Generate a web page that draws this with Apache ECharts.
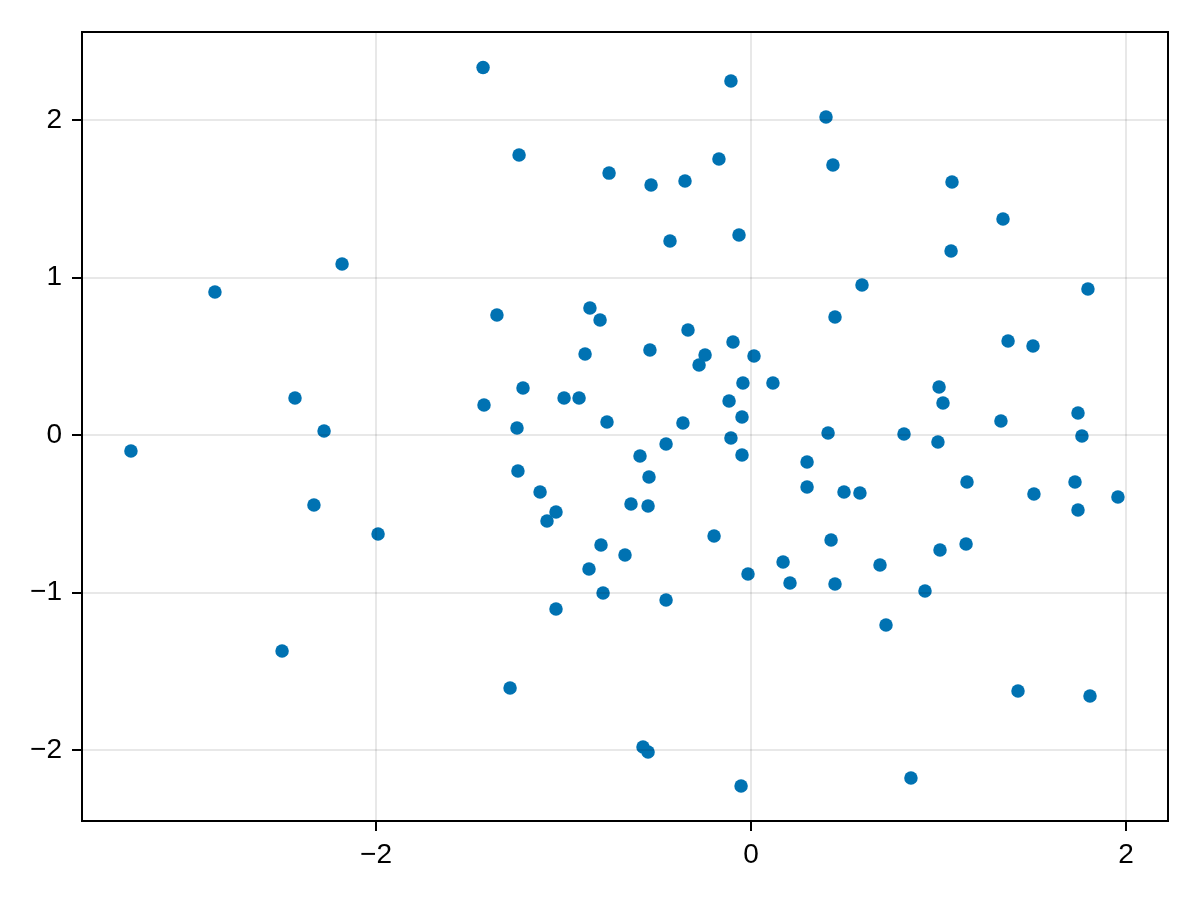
<!DOCTYPE html>
<html>
<head>
<meta charset="utf-8">
<script src="https://cdn.jsdelivr.net/npm/echarts@6/dist/echarts.min.js"></script>
<style>html,body{margin:0;padding:0;background:#fff}#chart{width:1200px;height:900px}</style>
</head>
<body>
<div id="chart"></div>
<script>
const xValues = [-1.429,-0.107,0.400,-1.237,-0.757,-0.533,-0.352,-0.171,0.437,1.072,
  1.344,-0.432,-0.064,1.067,-2.181,-2.859,0.592,1.797,-1.355,-0.859,
  -0.805,0.448,-0.336,1.371,1.504,-0.096,-0.539,-0.245,-0.885,0.016,
  -0.277,-1.216,-0.043,0.117,1.003,-2.432,-0.997,-0.917,-0.117,1.024,
  -1.424,1.744,-0.048,-0.768,-0.363,1.333,-1.248,-2.277,0.411,0.816,
  1.765,-0.107,0.997,-0.453,-3.307,-0.048,-0.592,0.299,-1.243,-0.544,
  1.728,1.152,0.299,-1.125,0.496,0.581,1.509,1.957,-0.640,-2.331,
  -0.549,1.744,-1.040,-1.088,-1.989,-0.197,0.427,1.147,-0.800,1.008,
  -0.672,0.688,0.171,-0.864,-0.016,0.208,0.448,0.928,-0.789,-0.453,
  -1.040,0.720,-2.501,-1.285,1.424,1.808,-0.576,-0.549,0.853,-0.053];
const yValues = [2.333,2.248,2.019,1.778,1.663,1.587,1.613,1.752,1.714,1.606,
  1.371,1.232,1.270,1.168,1.086,0.908,0.952,0.927,0.762,0.806,
  0.730,0.749,0.667,0.597,0.565,0.590,0.540,0.508,0.514,0.502,
  0.444,0.298,0.330,0.330,0.305,0.235,0.235,0.235,0.216,0.203,
  0.190,0.140,0.114,0.083,0.076,0.089,0.044,0.025,0.013,0.006,
  -0.006,-0.019,-0.044,-0.057,-0.102,-0.127,-0.133,-0.171,-0.229,-0.267,
  -0.298,-0.298,-0.330,-0.362,-0.362,-0.368,-0.375,-0.394,-0.438,-0.444,
  -0.451,-0.476,-0.489,-0.546,-0.629,-0.641,-0.667,-0.692,-0.698,-0.730,
  -0.762,-0.825,-0.806,-0.851,-0.883,-0.940,-0.946,-0.990,-1.003,-1.048,
  -1.105,-1.206,-1.371,-1.606,-1.625,-1.657,-1.981,-2.013,-2.178,-2.229];
const xTicks = [-2, 0, 2];
const yTicks = [-2, -1, 0, 1, 2];

const points = xValues.map((x, i) => [x, yValues[i]]);
const fmt = v => (v < 0 ? '\u2212' + Math.abs(v) : String(v));
const gridStyle = {color: 'rgba(0,0,0,0.12)', width: 1.5, type: 'solid'};
const FONT = '"Liberation Sans", Arial, Helvetica, sans-serif';

const chart = echarts.init(document.getElementById('chart'), null, {renderer: 'canvas'});
chart.setOption({
  animation: false,
  backgroundColor: '#fff',
  grid: {left: 82, right: 32, top: 32, bottom: 79, show: true, borderColor: '#000', borderWidth: 2, backgroundColor: 'transparent', z: 3},
  xAxis: {
    type: 'value', min: -3.568, max: 2.224,
    axisLine: {show: true, onZero: false, lineStyle: {color: '#000', width: 2}},
    axisTick: {show: true, customValues: xTicks, length: 10, lineStyle: {color: '#000', width: 2}},
    axisLabel: {customValues: xTicks, formatter: fmt, color: '#000', fontSize: 28, fontFamily: FONT, margin: 20},
    splitLine: {show: false}
  },
  yAxis: {
    type: 'value', min: -2.451, max: 2.559,
    axisLine: {show: true, onZero: false, lineStyle: {color: '#000', width: 2}},
    axisTick: {show: true, customValues: yTicks, length: 10, lineStyle: {color: '#000', width: 2}},
    axisLabel: {customValues: yTicks, formatter: fmt, color: '#000', fontSize: 28, fontFamily: FONT, margin: 20},
    splitLine: {show: false}
  },
  series: [
    {
      type: 'scatter', data: [], z: 1, silent: true,
      markLine: {
        silent: true, symbol: 'none', label: {show: false},
        lineStyle: gridStyle, emphasis: {disabled: true},
        data: xTicks.map(v => ({xAxis: v})).concat(yTicks.map(v => ({yAxis: v})))
      }
    },
    {
      type: 'scatter', data: points, z: 2,
      symbol: 'circle', symbolSize: 13.5,
      itemStyle: {color: '#0072B2', opacity: 1}
    }
  ]
});
</script>
</body>
</html>
